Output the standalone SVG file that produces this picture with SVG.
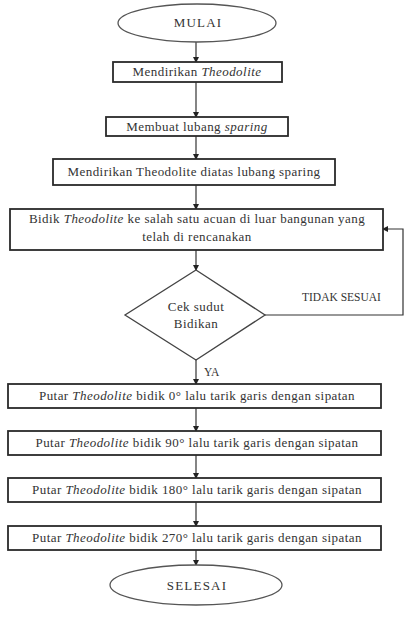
<svg xmlns="http://www.w3.org/2000/svg" width="405" height="620" viewBox="0 0 405 620">
<style>
.box{fill:#fff;stroke:#2a2a2a;stroke-width:1.8}
.term{fill:#fff;stroke:#555;stroke-width:1.3}
.t{font-family:"Liberation Serif","Times New Roman",serif;font-size:13px;letter-spacing:0.45px;fill:#333;text-anchor:middle}
.tt{font-family:"Liberation Serif","Times New Roman",serif;font-size:13px;letter-spacing:1.2px;fill:#333;text-anchor:middle}
.l{font-family:"Liberation Serif","Times New Roman",serif;font-size:11.5px;fill:#333}
.c{fill:none;stroke:#333;stroke-width:1.2}
</style>
<defs>
<marker id="ah" markerWidth="6" markerHeight="6" refX="5" refY="3" orient="auto" markerUnits="userSpaceOnUse">
<path d="M0,0 L6,3 L0,6 Z" fill="#222"/>
</marker>
</defs>
<g id="connectors">
<line class="c" x1="196" y1="42" x2="196" y2="62" marker-end="url(#ah)"/>
<line class="c" x1="196" y1="82" x2="196" y2="117" marker-end="url(#ah)"/>
<line class="c" x1="196" y1="136" x2="196" y2="159" marker-end="url(#ah)"/>
<line class="c" x1="196" y1="185" x2="196" y2="209" marker-end="url(#ah)"/>
<line class="c" x1="196" y1="250" x2="196" y2="270" marker-end="url(#ah)"/>
<polyline class="c" points="265,315 403,315 403,229 383,229" marker-end="url(#ah)"/>
<line class="c" x1="196" y1="360" x2="196" y2="384" marker-end="url(#ah)"/>
<line class="c" x1="196" y1="408" x2="196" y2="431" marker-end="url(#ah)"/>
<line class="c" x1="196" y1="455" x2="196" y2="478" marker-end="url(#ah)"/>
<line class="c" x1="196" y1="502" x2="196" y2="526" marker-end="url(#ah)"/>
<line class="c" x1="196" y1="550" x2="196" y2="565" marker-end="url(#ah)"/>
<text class="l" x="302" y="301">TIDAK SESUAI</text>
<text class="l" x="204" y="376">YA</text>
</g>
<g id="mulai">
<ellipse class="term" cx="197" cy="23" rx="79" ry="19"/>
<text class="tt" x="198" y="27">MULAI</text>
</g>
<g id="n1">
<rect class="box" x="113" y="62" width="169" height="20"/>
<text class="t" x="197" y="76">Mendirikan <tspan font-style="italic">Theodolite</tspan></text>
</g>
<g id="n2">
<rect class="box" x="106" y="117" width="182" height="19"/>
<text class="t" x="197" y="131">Membuat lubang <tspan font-style="italic">sparing</tspan></text>
</g>
<g id="n3">
<rect class="box" x="53" y="159" width="282" height="26"/>
<text class="t" x="194" y="176">Mendirikan Theodolite diatas lubang sparing</text>
</g>
<g id="n4">
<rect class="box" x="10" y="209" width="373" height="41"/>
<text class="t" x="197" y="223">Bidik <tspan font-style="italic">Theodolite</tspan> ke salah satu acuan di luar bangunan yang</text>
<text class="t" x="197" y="241">telah di rencanakan</text>
</g>
<g id="decision">
<polygon fill="#fff" stroke="#444" stroke-width="1.3" points="196,270 265,315 196,360 125,315"/>
<text class="t" x="196" y="311">Cek sudut</text>
<text class="t" x="196" y="328">Bidikan</text>
</g>
<g id="n5">
<rect class="box" x="8" y="384" width="373" height="24"/>
<text class="t" x="197" y="400">Putar <tspan font-style="italic">Theodolite</tspan> bidik 0° lalu tarik garis dengan sipatan</text>
</g>
<g id="n6">
<rect class="box" x="8" y="431" width="373" height="24"/>
<text class="t" x="197" y="447">Putar <tspan font-style="italic">Theodolite</tspan> bidik 90° lalu tarik garis dengan sipatan</text>
</g>
<g id="n7">
<rect class="box" x="8" y="478" width="373" height="24"/>
<text class="t" x="197" y="494">Putar <tspan font-style="italic">Theodolite</tspan> bidik 180° lalu tarik garis dengan sipatan</text>
</g>
<g id="n8">
<rect class="box" x="8" y="526" width="373" height="24"/>
<text class="t" x="197" y="542">Putar <tspan font-style="italic">Theodolite</tspan> bidik 270° lalu tarik garis dengan sipatan</text>
</g>
<g id="selesai">
<ellipse class="term" cx="196" cy="585" rx="86" ry="20"/>
<text class="tt" x="197" y="590">SELESAI</text>
</g>
</svg>
